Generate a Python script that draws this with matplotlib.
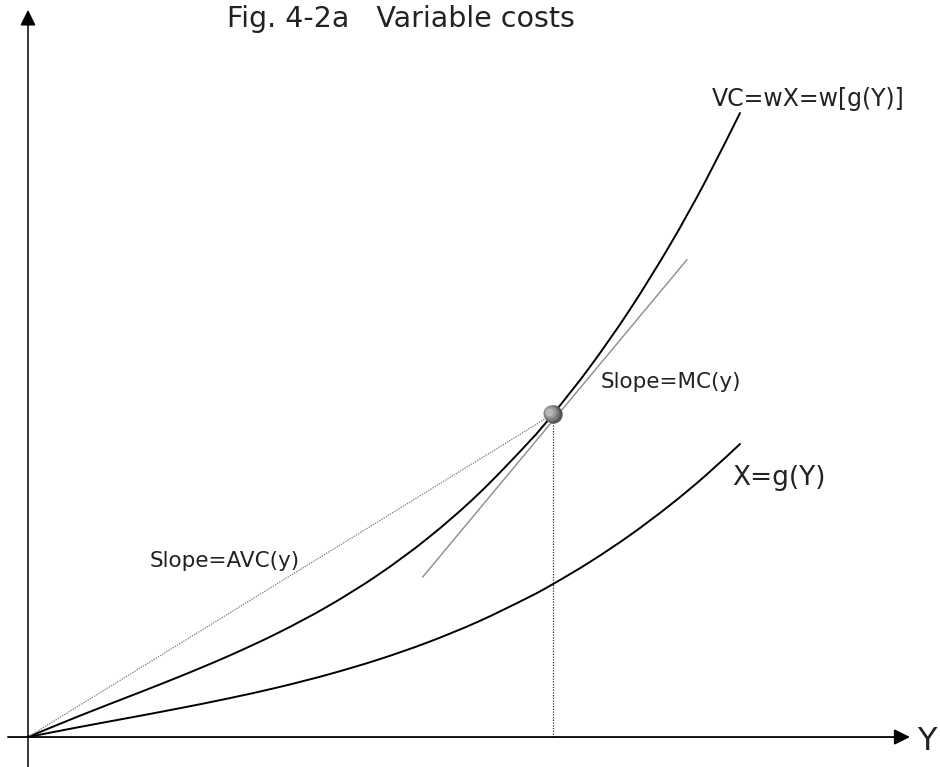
import numpy as np
import matplotlib.pyplot as plt
from matplotlib.path import Path
from matplotlib.patches import PathPatch

plt.rcParams['font.family'] = ['DejaVu Sans']

# output Y on the horizontal axis, cost on the vertical axis
out_y = [0, 0.952, 1.905, 2.857, 3.810, 4.762, 5.714, 6.667, 7.619, 8.571,
         9.524, 10.0, 10.705, 11.467, 12.229, 12.895, 13.562]
vc_c = [0, 0.391, 0.764, 1.139, 1.539, 1.983, 2.492, 3.088, 3.791, 4.621,
        5.601, 6.152, 7.052, 8.146, 9.375, 10.571, 11.886]
g_c = [0, 0.185, 0.362, 0.542, 0.734, 0.946, 1.190, 1.473, 1.805, 2.196,
       2.656, 2.914, 3.335, 3.845, 4.417, 4.971, 5.581]

# the chosen output level and the drawn tangent segment
y0 = out_y[11]
c0 = vc_c[11]
tan_y = [7.52, 12.55]
tan_c = [3.05, 9.09]


def smooth_path(xs, ys):
    # Catmull-Rom through the points, written as cubic Bezier pieces
    pts = np.column_stack([xs, ys])
    n = len(pts)
    verts = [pts[0]]
    codes = [Path.MOVETO]
    for i in range(n - 1):
        p0 = pts[max(i - 1, 0)]
        p1 = pts[i]
        p2 = pts[i + 1]
        p3 = pts[min(i + 2, n - 1)]
        verts += [p1 + (p2 - p0) / 6, p2 - (p3 - p1) / 6, p2]
        codes += [Path.CURVE4] * 3
    return Path(verts, codes)


fig = plt.figure(figsize=(9.4, 7.67), dpi=100)
ax = fig.add_axes([0, 0, 1, 1])
ax.set_xlim(-0.533, 17.371)
ax.set_ylim(-0.571, 14.038)
ax.axis('off')

head = '-|>,head_length=0.95,head_width=0.47'
ax.annotate('', xy=(0, 13.85), xytext=(0, -0.571),
            arrowprops=dict(arrowstyle=head, mutation_scale=10, lw=1.1,
                            color='#555555', fc='black', ec='black',
                            shrinkA=0, shrinkB=0))
ax.annotate('', xy=(16.80, 0), xytext=(-0.381, 0),
            arrowprops=dict(arrowstyle=head, mutation_scale=10, lw=1.3,
                            color='black', shrinkA=0, shrinkB=0))

# average cost ray and vertical drop line
ax.plot([0, y0], [0, c0], color='#777777', lw=0.9, ls=(0, (1, 1)))
ax.plot([y0, y0], [0, c0], color='#333333', lw=0.9, ls=(0, (1, 1.2)))

# marginal cost tangent
ax.plot(tan_y, tan_c, color='#8c8c8c', lw=1.0)

# cost curves
for ys in (vc_c, g_c):
    ax.add_patch(PathPatch(smooth_path(out_y, ys), fill=False, lw=1.4,
                           ec='black', capstyle='round'))

# shaded ball on the curve
ax.scatter([y0], [c0], s=150, color='#555555', zorder=5)
ax.scatter([y0 - 0.03], [c0 + 0.02], s=110, color='#7a7a7a', zorder=6)
ax.scatter([y0 - 0.06], [c0 + 0.03], s=60, color='#9c9c9c', zorder=7)
ax.scatter([y0 - 0.08], [c0 + 0.04], s=20, color='#b8b8b8', zorder=8)

txt = dict(ha='left', va='baseline', color='#222222')
ax.text(3.79, 13.52, 'Fig. 4-2a   Variable costs', fontsize=20.5, **txt)
ax.text(13.03, 12.01, 'VC=wX=w[g(Y)]', fontsize=17, **txt)
ax.text(10.90, 6.64, 'Slope=MC(y)', fontsize=15.5, **txt)
ax.text(2.32, 3.24, 'Slope=AVC(y)', fontsize=15.5, **txt)
ax.text(13.41, 4.80, 'X=g(Y)', fontsize=19, **txt)
ax.text(16.93, -0.25, 'Y', fontsize=23, **txt)

fig.savefig('out.png', dpi=100)
